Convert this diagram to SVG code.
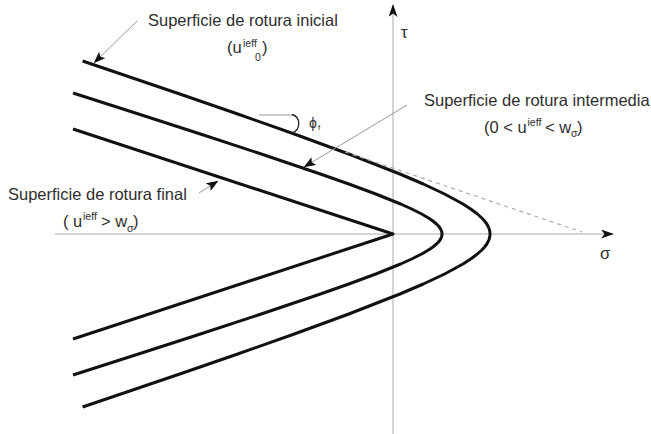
<svg xmlns="http://www.w3.org/2000/svg" width="651" height="434" viewBox="0 0 651 434">
<defs>
<marker id="axh" markerWidth="13" markerHeight="9" refX="12" refY="4.5" orient="auto" markerUnits="userSpaceOnUse">
<path d="M0,0 L13,4.5 L0,9 L3.5,4.5 Z" fill="#111"/>
</marker>
<marker id="ldh" markerWidth="12" markerHeight="9" refX="11.5" refY="4.5" orient="auto" markerUnits="userSpaceOnUse">
<path d="M0,0 L12,4.5 L0,9 L2.5,4.5 Z" fill="#111"/>
</marker>
</defs>
<style>
.ax{stroke:#c6c6c6;stroke-width:1.5;fill:none}
.cv{stroke:#111;stroke-width:3;fill:none;stroke-linejoin:round}
.ld{stroke:#999;stroke-width:1;fill:none}
.ds{stroke:#aaa;stroke-width:1.2;fill:none;stroke-dasharray:4 4}
.t{font-family:"Liberation Sans",Arial,sans-serif;font-size:16.5px;fill:#2e2e2e}
.s{font-size:10.5px}
</style>
<g id="axes">
<line class="ax" x1="393" y1="434" x2="393" y2="5" marker-end="url(#axh)"/>
<line class="ax" x1="55" y1="234" x2="613" y2="234" marker-end="url(#axh)"/>
<text class="t" x="401" y="38" font-size="12">τ</text>
<text class="t" x="600" y="259" font-size="14">σ</text>
</g>
<g id="initial">
<path class="cv" d="M82.6,61 L179.8,94 L237.7,114 L294.3,134 L348.8,154 L399.9,174 L423.3,184 L444.6,194 L463,204 L470.7,209 L477.4,214 L481.8,218 L484.6,221 L486.8,224 L487.9,226 L488.8,228 L489.5,230 L489.9,232 L490,234 L489.9,236 L489.5,238 L488.8,240 L487.9,242 L486.8,244 L484.6,247 L481.8,250 L477.4,254 L470.7,259 L463,264 L444.6,274 L423.3,284 L399.9,294 L348.8,314 L294.3,334 L237.7,354 L179.8,374 L82.6,407"/>
</g>
<g id="intermediate">
<path class="cv" d="M73,93 L138.5,114 L200.4,134 L261.3,154 L320.4,174 L348.8,184 L375.8,194 L400.6,204 L411.7,209 L421.7,214 L428.5,218 L432.9,221 L436.5,224 L438.5,226 L440,228 L441.1,230 L441.8,232 L442,234 L441.8,236 L441.1,238 L440,240 L438.5,242 L436.5,244 L432.9,247 L428.5,250 L421.7,254 L411.7,259 L400.6,264 L375.8,274 L348.8,284 L320.4,294 L261.3,314 L200.4,334 L138.5,354 L73,375"/>
</g>
<g id="final">
<path class="cv" d="M73,129 L393,234 L73,339"/>
</g>
<g id="connectors">
<line class="ds" x1="345" y1="152" x2="582" y2="232"/>
<line class="ld" x1="137" y1="21" x2="94" y2="63" marker-end="url(#ldh)"/>
<line class="ld" x1="407" y1="105" x2="304" y2="167" marker-end="url(#ldh)"/>
<line class="ld" x1="199" y1="193" x2="218" y2="181" marker-end="url(#ldh)"/>
<line class="ld" x1="259" y1="115" x2="293" y2="115"/>
<path d="M292,114.5 C301,117 301,130 292,133" stroke="#222" stroke-width="1.3" fill="none"/>
</g>
<g id="labels">
<text class="t" x="148" y="26">Superficie de rotura inicial</text>
<text class="t"><tspan x="227" y="53">(u</tspan><tspan class="s" x="243" y="47">ieff</tspan><tspan class="s" x="255" y="61">0</tspan><tspan x="262" y="53">)</tspan></text>
<text class="t" x="424" y="106">Superficie de rotura intermedia</text>
<text class="t"><tspan x="484" y="133">(0 &lt; u</tspan><tspan class="s" x="527.5" y="126">ieff</tspan><tspan x="545" y="133">&lt; w</tspan><tspan class="s" x="571" y="137">σ</tspan><tspan x="577" y="133">)</tspan></text>
<text class="t" x="8" y="200">Superficie de rotura final</text>
<text class="t"><tspan x="63" y="227">( u</tspan><tspan class="s" x="83" y="220">ieff</tspan><tspan x="101" y="227">&gt; w</tspan><tspan class="s" x="127" y="232">σ</tspan><tspan x="133" y="227">)</tspan></text>
<text class="t"><tspan x="309" y="128" font-size="14">ϕ</tspan><tspan x="318" y="130" font-size="8">f</tspan></text>
</g>
</svg>
